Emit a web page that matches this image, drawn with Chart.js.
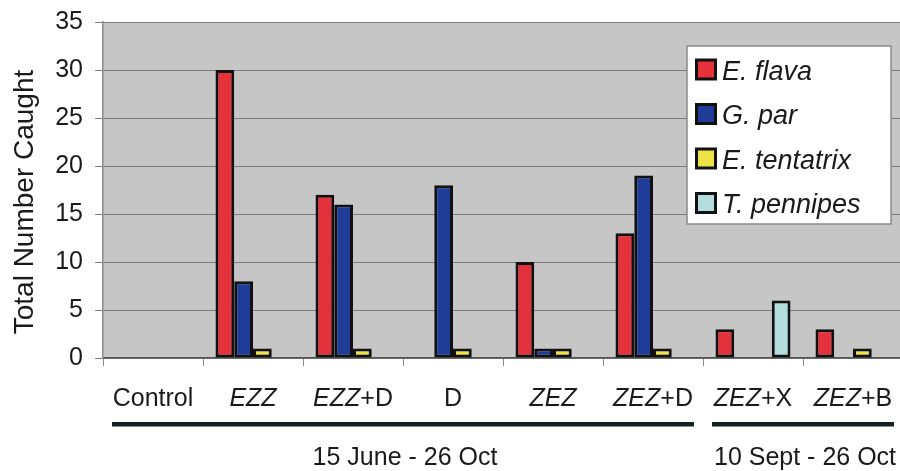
<!DOCTYPE html>
<html>
<head>
<meta charset="utf-8">
<script src="https://cdn.jsdelivr.net/npm/chart.js@4/dist/chart.umd.min.js"></script>
<style>
  html, body { margin: 0; padding: 0; background: #ffffff; overflow: hidden; }
  #wrap { width: 903px; height: 471px; position: relative; }
</style>
</head>
<body>
<div id="wrap"><canvas id="c"></canvas></div>
<script>
// ---- Data ----
const categories = ['Control', 'EZZ', 'EZZ+D', 'D', 'ZEZ', 'ZEZ+D', 'ZEZ+X', 'ZEZ+B'];
const seriesNames = ['E. flava', 'G. par', 'E. tentatrix', 'T. pennipes'];
const eFlava      = [0, 30, 17, 0, 10, 13, 3, 3];
const gPar        = [0, 8, 16, 18, 1, 19, 0, 0];
const eTentatrix  = [0, 1, 1, 1, 1, 1, 0, 1];
const tPennipes   = [0, 0, 0, 0, 0, 0, 6, 0];
const yTickValues = [0, 5, 10, 15, 20, 25, 30, 35];
const yTitle = 'Total Number Caught';
const periodLabels = ['15 June - 26 Oct', '10 Sept - 26 Oct'];
const periodFirst  = [0, 6];
const periodLast   = [5, 7];

const colors = ['#E4313B', '#1F3D98', '#EEE244', '#B3DDDD'];
const FONT = '"Liberation Sans", Arial, Helvetica, sans-serif';

const plotBg = {
  id: 'plotBg',
  beforeDraw(chart) {
    const { ctx, chartArea: a } = chart;
    ctx.save();
    ctx.fillStyle = '#C6C6C6';
    ctx.fillRect(a.left, a.top, a.right - a.left, a.bottom - a.top);
    ctx.restore();
  }
};

const extras = {
  id: 'extras',
  afterDraw(chart) {
    const { ctx } = chart;
    const xs = chart.scales.x;
    ctx.save();

    // category labels (treatment code in italics)
    ctx.fillStyle = '#1a1a1a';
    ctx.textBaseline = 'alphabetic';
    categories.forEach((lab, i) => {
      const cx = xs.getPixelForValue(i);
      const m = lab.match(/^([EZ]+)(.*)$/);
      const parts = m ? [[m[1], true], [m[2], false]] : [[lab, false]];
      let total = 0;
      parts.forEach(p => { ctx.font = (p[1] ? 'italic ' : '') + '25px ' + FONT; total += ctx.measureText(p[0]).width; });
      let x = cx - total / 2;
      ctx.textAlign = 'left';
      parts.forEach(p => {
        ctx.font = (p[1] ? 'italic ' : '') + '25px ' + FONT;
        ctx.fillText(p[0], x, 406);
        x += ctx.measureText(p[0]).width;
      });
    });

    // period underlines and labels
    const half = (xs.getPixelForValue(1) - xs.getPixelForValue(0)) / 2;
    periodLabels.forEach((lab, k) => {
      const x0 = xs.getPixelForValue(periodFirst[k]) - half + 9;
      const x1 = xs.getPixelForValue(periodLast[k]) + half - 9;
      ctx.fillStyle = '#172020';
      ctx.fillRect(x0, 422, x1 - x0, 4.5);
      ctx.fillStyle = '#1a1a1a';
      ctx.font = '25px ' + FONT;
      ctx.textAlign = 'center';
      ctx.fillText(lab, (x0 + x1) / 2 + 2, 465);
    });

    // y title
    ctx.save();
    ctx.translate(33, 202);
    ctx.rotate(-Math.PI / 2);
    ctx.font = '28px ' + FONT;
    ctx.fillStyle = '#1a1a1a';
    ctx.textAlign = 'center';
    ctx.textBaseline = 'alphabetic';
    ctx.fillText(yTitle, 0, 0);
    ctx.restore();

    // legend box
    const bx = 687, by = 46, bw = 204, bh = 178;
    ctx.fillStyle = '#ffffff';
    ctx.fillRect(bx, by, bw, bh);
    ctx.strokeStyle = '#8a8a8a';
    ctx.lineWidth = 1.5;
    ctx.strokeRect(bx, by, bw, bh);
    chart.data.datasets.forEach((ds, i) => {
      const cy = 69.5 + i * 44.5;
      ctx.fillStyle = '#111111';
      ctx.fillRect(695, cy - 11, 22, 22);
      ctx.fillStyle = ds.backgroundColor;
      ctx.fillRect(698, cy - 8, 16, 16);
      ctx.fillStyle = '#1a1a1a';
      ctx.font = 'italic 27px ' + FONT;
      ctx.textAlign = 'left';
      ctx.textBaseline = 'alphabetic';
      ctx.fillText(ds.label, 722, cy + 10);
    });
    ctx.restore();
  }
};

const seriesData = [eFlava, gPar, eTentatrix, tPennipes];

new Chart(document.getElementById('c'), {
  type: 'bar',
  data: {
    labels: categories,
    datasets: seriesData.map((d, i) => ({
      label: seriesNames[i],
      data: d,
      backgroundColor: colors[i],
      borderColor: '#111111',
      borderWidth: 3,
      borderSkipped: false,
      categoryPercentage: 0.75,
      barPercentage: 1.0
    }))
  },
  options: {
    responsive: true,
    maintainAspectRatio: false,
    animation: false,
    devicePixelRatio: 1,
    layout: { padding: { top: 22, right: 0, bottom: 0, left: 0 } },
    plugins: { legend: { display: false }, tooltip: { enabled: false } },
    scales: {
      x: {
        offset: true,
        grid: { display: true, drawOnChartArea: false, drawTicks: true, tickLength: 8, color: '#8a8a8a', offset: true },
        border: { display: true, color: '#555555', width: 1.5 },
        ticks: { display: false },
        afterFit(s) { s.height = 113; s.paddingLeft = 0; s.paddingRight = 0; }
      },
      y: {
        min: 0, max: 35,
        afterBuildTicks(s) { s.ticks = yTickValues.map(v => ({ value: v })); },
        grid: { color: '#7c7c7c', lineWidth: 1, drawTicks: true, tickLength: 8 },
        border: { display: true, color: '#8a8a8a', width: 1.5 },
        ticks: { font: { family: FONT, size: 25 }, color: '#1a1a1a', padding: 12 },
        afterFit(s) { s.width = 103; s.paddingTop = 0; s.paddingBottom = 0; }
      }
    }
  },
  plugins: [plotBg, extras]
});
</script>
</body>
</html>
